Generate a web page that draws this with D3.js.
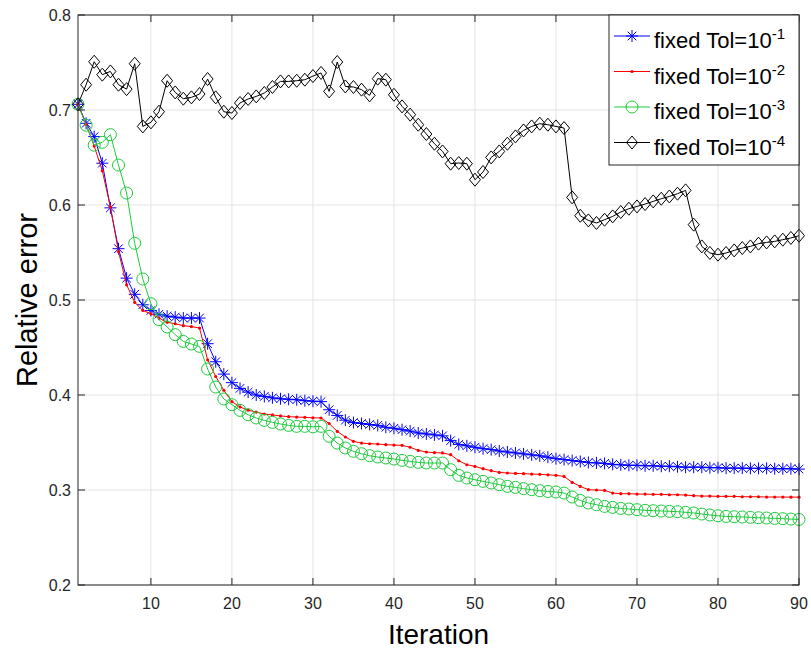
<!DOCTYPE html>
<html>
<head>
<meta charset="utf-8">
<script src="https://cdn.jsdelivr.net/npm/d3@7"></script>
<style>
    html, body { margin: 0; padding: 0; background: #fff; }
    text { font-family: "Liberation Sans", Arial, Helvetica, sans-serif; fill: #262626; }
</style>
</head>
<body>
<svg id="chart" width="811" height="651"></svg>
<script>

// Data
const iterations = d3.range(1, 91);

const tol1 = [0.706, 0.686, 0.672, 0.644, 0.597, 0.554, 0.523, 0.506, 0.495, 0.489,
    0.485, 0.483, 0.482, 0.481, 0.481, 0.481, 0.454, 0.435, 0.422, 0.413,
    0.407, 0.403, 0.400, 0.3985, 0.397, 0.396, 0.3955, 0.395, 0.394, 0.3935,
    0.393, 0.3845, 0.3785, 0.3735, 0.371, 0.370, 0.369, 0.368, 0.366, 0.365,
    0.3635, 0.362, 0.360, 0.359, 0.358, 0.357, 0.352, 0.348, 0.3465, 0.345,
    0.3435, 0.3425, 0.341, 0.340, 0.339, 0.338, 0.337, 0.336, 0.3345, 0.333,
    0.332, 0.331, 0.330, 0.329, 0.3285, 0.328, 0.327, 0.3265, 0.326, 0.326,
    0.3255, 0.3255, 0.325, 0.325, 0.3245, 0.324, 0.324, 0.324, 0.3235, 0.3235,
    0.323, 0.323, 0.323, 0.3228, 0.3228, 0.3228, 0.3224, 0.3224, 0.3224, 0.322];

const tol2 = [0.706, 0.685, 0.662, 0.636, 0.598, 0.551, 0.516, 0.4975, 0.489, 0.4855,
    0.481, 0.4765, 0.475, 0.473, 0.472, 0.4705, 0.437, 0.4195, 0.405, 0.393,
    0.3875, 0.384, 0.382, 0.380, 0.379, 0.378, 0.3772, 0.3768, 0.3765, 0.376,
    0.3758, 0.370, 0.3617, 0.3558, 0.3512, 0.3494, 0.3487, 0.3484, 0.3477, 0.3473,
    0.347, 0.345, 0.3417, 0.340, 0.3393, 0.339, 0.3372, 0.3308, 0.3266, 0.3248,
    0.3224, 0.3203, 0.3185, 0.3179, 0.3175, 0.3172, 0.3168, 0.3165, 0.316, 0.3154,
    0.3143, 0.308, 0.3038, 0.3003, 0.300, 0.2996, 0.2968, 0.2961, 0.2961, 0.2957,
    0.2957, 0.2954, 0.2954, 0.295, 0.295, 0.2947, 0.294, 0.2936, 0.2936, 0.2933,
    0.2933, 0.2933, 0.2929, 0.2929, 0.2929, 0.2926, 0.2926, 0.2926, 0.2925, 0.2925];

const tol3 = [0.706, 0.684, 0.663, 0.666, 0.674, 0.642, 0.6126, 0.5597, 0.5221, 0.4961,
    0.4793, 0.4716, 0.4635, 0.4564, 0.4537, 0.4512, 0.4274, 0.4084, 0.3958, 0.3898,
    0.3838, 0.3793, 0.3758, 0.3733, 0.3712, 0.3695, 0.368, 0.367, 0.367, 0.3665,
    0.367, 0.3565, 0.3494, 0.3442, 0.3407, 0.3382, 0.3361, 0.3347, 0.3337, 0.3326,
    0.3312, 0.3301, 0.3291, 0.3284, 0.3284, 0.3284, 0.3214, 0.3154, 0.3126, 0.3108,
    0.3091, 0.3074, 0.3056, 0.3038, 0.3028, 0.3014, 0.3003, 0.2993, 0.2985, 0.2979,
    0.2968, 0.2926, 0.289, 0.2863, 0.2845, 0.2827, 0.2817, 0.2806, 0.280, 0.2793,
    0.2786, 0.2782, 0.2779, 0.2775, 0.2772, 0.2765, 0.2758, 0.2747, 0.2737, 0.2729,
    0.2722, 0.2719, 0.2716, 0.2712, 0.2708, 0.2705, 0.2701, 0.2698, 0.2694, 0.269];

const tol4 = [0.706, 0.7266, 0.7508, 0.7372, 0.7406, 0.7266, 0.722, 0.7487, 0.6827, 0.687,
    0.6982, 0.7308, 0.7185, 0.7119, 0.7133, 0.7168, 0.7326, 0.7133, 0.6982, 0.6968,
    0.7074, 0.7116, 0.7143, 0.7179, 0.7242, 0.7301, 0.7301, 0.7308, 0.7319, 0.7357,
    0.739, 0.7196, 0.7505, 0.7248, 0.7242, 0.7214, 0.7154, 0.733, 0.7319, 0.716,
    0.7038, 0.6951, 0.6845, 0.6747, 0.6645, 0.6564, 0.6435, 0.6442, 0.6435, 0.6266,
    0.6347, 0.6501, 0.6564, 0.6645, 0.6722, 0.6785, 0.6827, 0.6856, 0.6845, 0.6827,
    0.681, 0.608, 0.5887, 0.5838, 0.5811, 0.5845, 0.588, 0.5926, 0.5961, 0.5985,
    0.601, 0.6038, 0.6066, 0.609, 0.6119, 0.6154, 0.5793, 0.5564, 0.5495, 0.5477,
    0.5495, 0.5522, 0.5547, 0.5564, 0.5593, 0.5606, 0.5617, 0.5635, 0.5653, 0.5677];

const xTicks = [10, 20, 30, 40, 50, 60, 70, 80, 90];
const yTicks = [0.2, 0.3, 0.4, 0.5, 0.6, 0.7, 0.8];
const legendExponents = ['-1', '-2', '-3', '-4'];

/**
 * @class ErrorChart
 */
class ErrorChart {

    // Configs
    configs = {
        width: 811,
        height: 651,
        margin: { top: 15, right: 12, bottom: 66, left: 78 },
        axis_color: '#262626',
        grid_color: '#e3e3e3',
        tick_len: 7
    };

    // Series styles
    series = [
        { values: tol1, color: '#0000ff', marker: 'star' },
        { values: tol2, color: '#ff0000', marker: 'dot' },
        { values: tol3, color: '#1ecb3c', marker: 'circle' },
        { values: tol4, color: '#000000', marker: 'diamond' }
    ];

    constructor(_svg) {
        this.svg = d3.select(_svg);
        this.init();
    }

    /** 1.
     * @function init
     */
    init() {
        const c = this.configs;
        this.w = c.width - c.margin.left - c.margin.right;
        this.h = c.height - c.margin.top - c.margin.bottom;

        // Scales
        this.x = d3.scaleLinear().domain([1, 90]).range([0, this.w]);
        this.y = d3.scaleLinear().domain([0.2, 0.8]).range([this.h, 0]);

        this.g = this.svg.append('g')
            .attr('transform', `translate(${c.margin.left},${c.margin.top})`);

        this.drawGrid();
        this.drawSeries();
        this.drawAxes();
        this.drawLegend();
    }

    /** 2.
     * @function drawGrid
     */
    drawGrid() {
        const c = this.configs;
        const grid = this.g.append('g').attr('class', 'grid');

        grid.selectAll('line.gx').data(xTicks).join('line')
            .attr('x1', d => this.x(d)).attr('x2', d => this.x(d))
            .attr('y1', 0).attr('y2', this.h)
            .attr('stroke', c.grid_color).attr('stroke-width', 1);

        grid.selectAll('line.gy').data(yTicks).join('line')
            .attr('x1', 0).attr('x2', this.w)
            .attr('y1', d => this.y(d)).attr('y2', d => this.y(d))
            .attr('stroke', c.grid_color).attr('stroke-width', 1);
    }

    /** 3.
     * @function markerPath
     */
    markerPath(type) {
        if (type === 'star') {
            const a = 6, b = 4.3;
            return `M${-a},0L${a},0M0,${-a}L0,${a}M${-b},${-b}L${b},${b}M${-b},${b}L${b},${-b}`;
        }
        if (type === 'diamond') {
            const a = 5.5, b = 6.5;
            return `M0,${-b}L${a},0L0,${b}L${-a},0Z`;
        }
        return null;
    }

    drawMarkers(layer, s, pts, cx, cy) {
        if (s.marker === 'circle') {
            layer.selectAll('circle').data(pts).join('circle')
                .attr('cx', cx).attr('cy', cy).attr('r', 6)
                .attr('fill', 'none').attr('stroke', s.color).attr('stroke-width', 1);
        } else if (s.marker === 'dot') {
            layer.selectAll('circle').data(pts).join('circle')
                .attr('cx', cx).attr('cy', cy).attr('r', 1.6)
                .attr('fill', s.color);
        } else {
            const p = this.markerPath(s.marker);
            layer.selectAll('path.mk').data(pts).join('path')
                .attr('class', 'mk')
                .attr('transform', d => `translate(${cx(d)},${cy(d)})`)
                .attr('d', p)
                .attr('fill', 'none')
                .attr('stroke', s.color).attr('stroke-width', 1);
        }
    }

    /** 4.
     * @function drawSeries
     */
    drawSeries() {
        const line = d3.line()
            .x(d => this.x(d.i))
            .y(d => this.y(d.v));

        this.series.forEach(s => {
            const pts = iterations.map((it, k) => ({ i: it, v: s.values[k] }));
            const layer = this.g.append('g');

            layer.append('path')
                .datum(pts)
                .attr('d', line)
                .attr('fill', 'none')
                .attr('stroke', s.color)
                .attr('stroke-width', 1);

            this.drawMarkers(layer, s, pts, d => this.x(d.i), d => this.y(d.v));
        });
    }

    /** 5.
     * @function drawAxes
     */
    drawAxes() {
        const c = this.configs;
        const ax = this.g.append('g').attr('class', 'axes');

        // Box
        ax.append('rect')
            .attr('x', 0).attr('y', 0)
            .attr('width', this.w).attr('height', this.h)
            .attr('fill', 'none').attr('stroke', c.axis_color).attr('stroke-width', 1);

        // X ticks (bottom + top)
        xTicks.forEach(t => {
            const px = this.x(t);
            ax.append('line').attr('x1', px).attr('x2', px)
                .attr('y1', this.h).attr('y2', this.h - c.tick_len)
                .attr('stroke', c.axis_color);
            ax.append('line').attr('x1', px).attr('x2', px)
                .attr('y1', 0).attr('y2', c.tick_len)
                .attr('stroke', c.axis_color);
            ax.append('text')
                .attr('x', px).attr('y', this.h + 24)
                .attr('text-anchor', 'middle')
                .attr('font-size', 16)
                .text(t);
        });

        // Y ticks (left + right)
        yTicks.forEach(t => {
            const py = this.y(t);
            ax.append('line').attr('x1', 0).attr('x2', c.tick_len)
                .attr('y1', py).attr('y2', py)
                .attr('stroke', c.axis_color);
            ax.append('line').attr('x1', this.w).attr('x2', this.w - c.tick_len)
                .attr('y1', py).attr('y2', py)
                .attr('stroke', c.axis_color);
            ax.append('text')
                .attr('x', -7).attr('y', py + 6)
                .attr('text-anchor', 'end')
                .attr('font-size', 16)
                .text(d3.format('.1f')(t));
        });

        // Axis labels
        ax.append('text')
            .attr('x', this.w / 2).attr('y', this.h + 59)
            .attr('text-anchor', 'middle')
            .attr('font-size', 28)
            .style('fill', '#000')
            .text('Iteration');

        ax.append('text')
            .attr('transform', `translate(${-41},${this.h / 2}) rotate(-90)`)
            .attr('text-anchor', 'middle')
            .attr('font-size', 29)
            .style('fill', '#000')
            .text('Relative error');
    }

    /** 6.
     * @function drawLegend
     */
    drawLegend() {
        const c = this.configs;
        const lx = 609 - c.margin.left, ly = 0, lw = this.w - (609 - c.margin.left), lh = 150;
        const lg = this.g.append('g').attr('class', 'legend');

        lg.append('rect')
            .attr('x', lx).attr('y', ly)
            .attr('width', lw).attr('height', lh)
            .attr('fill', '#fff').attr('stroke', c.axis_color).attr('stroke-width', 1);

        this.series.forEach((s, k) => {
            const yy = ly + 21 + k * 35.5;
            const row = lg.append('g');
            const x0 = lx + 5, x1 = lx + 41;

            row.append('line')
                .attr('x1', x0).attr('x2', x1).attr('y1', yy).attr('y2', yy)
                .attr('stroke', s.color).attr('stroke-width', 1);

            const mid = [{ i: 0, v: 0 }];
            this.drawMarkers(row, s, mid, () => (x0 + x1) / 2, () => yy);

            const txt = row.append('text')
                .attr('x', lx + 45).attr('y', yy + 12)
                .attr('font-size', 22)
                .style('fill', '#000');
            txt.append('tspan').text('fixed Tol=10');
            txt.append('tspan')
                .attr('dy', -9).attr('font-size', 15)
                .text(legendExponents[k]);
        });
    }
}

new ErrorChart('#chart');

</script>
</body>
</html>
